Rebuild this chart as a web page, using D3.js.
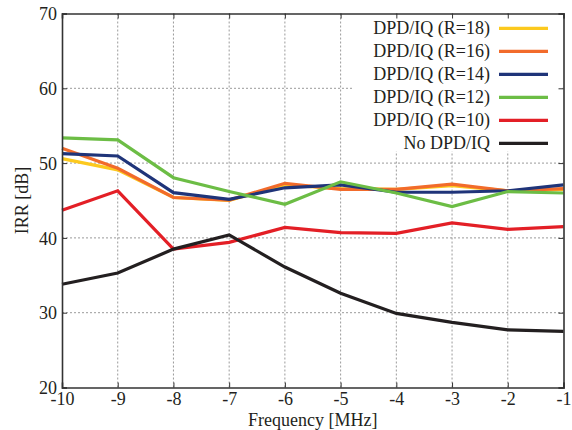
<!DOCTYPE html>
<html>
<head>
<meta charset="utf-8">
<script src="https://cdn.jsdelivr.net/npm/d3@7"></script>
<style>
  body { margin: 0; background: #fff; }
  text { font-family: "Liberation Serif", "Times New Roman", serif; fill: #231f20; }
</style>
</head>
<body>
<div class="graph"></div>
<script>
// data
let freqs = [-10, -9, -8, -7, -6, -5, -4, -3, -2, -1]
let r18 = [50.6, 49.1, 45.4, 45.0, 47.1, 46.6, 46.5, 47.0, 46.3, 46.5]
let r16 = [52.0, 49.3, 45.4, 45.05, 47.3, 46.5, 46.5, 47.2, 46.3, 46.6]
let r14 = [51.26, 50.95, 46.05, 45.15, 46.7, 47.1, 46.1, 46.1, 46.3, 47.1]
let r12 = [53.36, 53.1, 48.05, 46.2, 44.5, 47.5, 46.0, 44.2, 46.2, 46.0]
let r10 = [43.7, 46.3, 38.5, 39.4, 41.4, 40.7, 40.6, 42.0, 41.15, 41.5]
let noDpd = [33.8, 35.3, 38.5, 40.4, 36.1, 32.6, 29.9, 28.7, 27.7, 27.5]

let seriesNames = ["DPD/IQ (R=18)", "DPD/IQ (R=16)", "DPD/IQ (R=14)", "DPD/IQ (R=12)", "DPD/IQ (R=10)", "No DPD/IQ"]
let seriesValues = [r18, r16, r14, r12, r10, noDpd]
let colors = ["#fcc91e", "#f26b2b", "#1f3479", "#6cbd45", "#e31f26", "#231f20"]

let xTicks = [-10, -9, -8, -7, -6, -5, -4, -3, -2, -1]
let yTicks = [20, 30, 40, 50, 60, 70]

let svgWidth = 572
let svgHeight = 430
let margin = { left: 62, right: 8.5, top: 13.5, bottom: 42.5 }
let width = svgWidth - margin.left - margin.right
let height = svgHeight - margin.top - margin.bottom
let fontSize = '18px'

let svg = d3.select('.graph')
    .append('svg')
    .attr('width', svgWidth)
    .attr('height', svgHeight)
    .append('g')
    .attr('transform', `translate(${margin.left},${margin.top})`)

let xScale = d3.scaleLinear().domain([-10, -1]).range([0, width])
let yScale = d3.scaleLinear().domain([20, 70]).range([height, 0])

// grid
svg.append('g').selectAll('line')
    .data(xTicks.slice(1, -1))
    .join('line')
    .attr('x1', d => xScale(d)).attr('x2', d => xScale(d))
    .attr('y1', 0).attr('y2', height)
    .attr('stroke', '#9a9a9a').attr('stroke-width', 1)
    .attr('stroke-dasharray', '2,2')

svg.append('g').selectAll('line')
    .data(yTicks.slice(1, -1))
    .join('line')
    .attr('y1', d => yScale(d)).attr('y2', d => yScale(d))
    .attr('x1', 0).attr('x2', width)
    .attr('stroke', '#9a9a9a').attr('stroke-width', 1)
    .attr('stroke-dasharray', '2,2')

// legend background hides the grid behind it
svg.append('rect')
    .attr('x', 290).attr('y', 1)
    .attr('width', width - 291).attr('height', 137)
    .attr('fill', '#fff')

// lines
let valueLine = d3.line()
    .x((d, i) => xScale(freqs[i]))
    .y(d => yScale(d))

seriesValues.forEach((vals, i) => {
    svg.append('path')
        .attr('d', valueLine(vals))
        .attr('fill', 'none')
        .attr('stroke', colors[i])
        .attr('stroke-width', 3.2)
})

// axes: box with inner ticks, plain hyphen for minus
let fmt = d => String(d)
let xAxis = d3.axisBottom(xScale).tickValues(xTicks).tickSize(-5).tickPadding(5).tickFormat(fmt)
let yAxis = d3.axisLeft(yScale).tickValues(yTicks).tickSize(-5).tickPadding(5).tickFormat(fmt)

let gx = svg.append('g')
    .attr('transform', `translate(0,${height})`)
    .call(xAxis)
let gy = svg.append('g').call(yAxis)

svg.append('g').call(d3.axisTop(xScale).tickValues(xTicks).tickSize(-5).tickFormat(''))
svg.append('g').attr('transform', `translate(${width},0)`)
    .call(d3.axisRight(yScale).tickValues(yTicks).tickSize(-5).tickFormat(''))

svg.selectAll('.domain').attr('stroke', '#333').attr('stroke-width', 1.6)
svg.selectAll('.tick line').attr('stroke', '#333').attr('stroke-width', 1)
gx.selectAll('text').style('font-size', fontSize).style('font-family', '"Liberation Serif", serif').attr('fill', '#231f20')
gy.selectAll('text').style('font-size', fontSize).style('font-family', '"Liberation Serif", serif').attr('fill', '#231f20')
    .attr('dy', '0.34em')

// axis titles
svg.append('text')
    .attr('x', width / 2).attr('y', height + 38.5)
    .attr('text-anchor', 'middle')
    .style('font-size', fontSize)
    .text('Frequency [MHz]')

svg.append('text')
    .attr('transform', `translate(${-34},${height / 2}) rotate(-90)`)
    .attr('text-anchor', 'middle')
    .style('font-size', fontSize)
    .text('IRR [dB]')

// legend
let legend = svg.append('g')
seriesNames.forEach((name, i) => {
    let y = 14.8 + i * 23
    legend.append('text')
        .attr('x', 428).attr('y', y)
        .attr('dy', '0.34em')
        .attr('text-anchor', 'end')
        .style('font-size', fontSize)
        .text(name)
    legend.append('line')
        .attr('x1', 437).attr('x2', 486)
        .attr('y1', y).attr('y2', y)
        .attr('stroke', colors[i])
        .attr('stroke-width', 3.2)
})
</script>
</body>
</html>
